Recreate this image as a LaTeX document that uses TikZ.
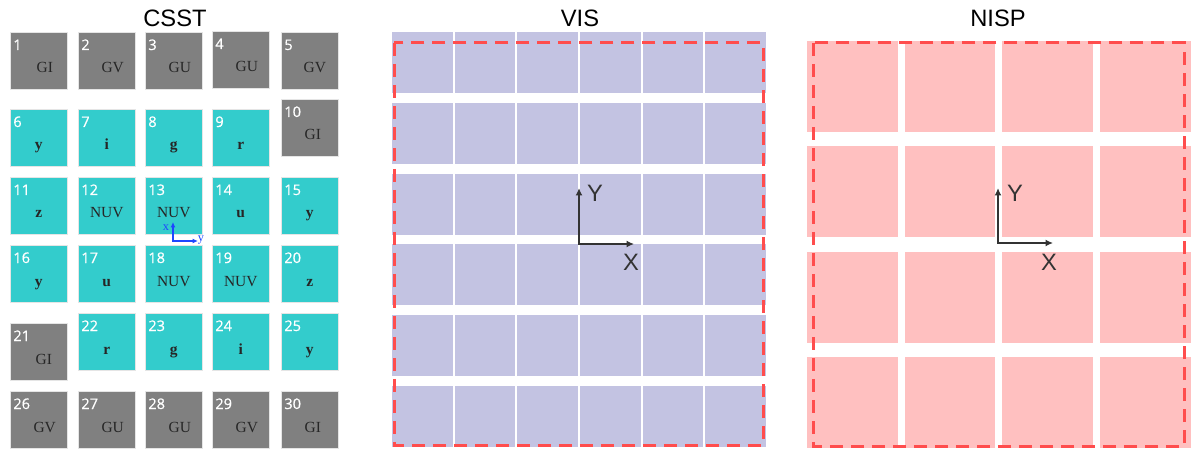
\documentclass[tikz,border=0pt]{standalone}
\usepackage{fontspec}
\setmainfont{Liberation Serif}
\newfontfamily\titlefont{Liberation Sans}
\newfontfamily\numfont[FakeBold=0.6]{Open Sans}
\usetikzlibrary{arrows.meta}
\definecolor{cgray}{RGB}{128,128,128}
\definecolor{ccyan}{RGB}{51,204,204}
\definecolor{visfill}{RGB}{195,195,226}
\definecolor{nispfill}{RGB}{255,192,192}
\definecolor{reddash}{RGB}{255,77,77}
\definecolor{axisgray}{RGB}{51,51,51}
\definecolor{lblgray}{RGB}{38,38,38}
\definecolor{axisblue}{RGB}{30,70,255}
\begin{document}
\begin{tikzpicture}[x=0.02cm,y=-0.02cm,
  chip/.style={draw=black!10, line width=0.4pt, minimum width=1.15cm, minimum height=1.15cm, inner sep=0pt, anchor=north west},
  chipg/.style={chip, fill=cgray},
  chipc/.style={chip, fill=ccyan},
  numlbl/.style={text=white, font=\numfont\fontsize{8.3}{9}\selectfont, inner sep=0pt, anchor=base west},
  fltlbl/.style={text=lblgray, font=\fontsize{8.8}{10}\selectfont, inner sep=0pt, anchor=base},
  ttl/.style={font=\titlefont\fontsize{13.5}{15}\selectfont, inner sep=0pt, anchor=base},
  axlbl/.style={font=\titlefont\fontsize{13.5}{15}\selectfont, text=axisgray, inner sep=0pt},
  bigaxis/.style={draw=axisgray, line width=0.055cm, {Latex[length=0.15cm,width=0.14cm]}-{Latex[length=0.15cm,width=0.14cm]}},
  smallaxis/.style={draw=axisblue, line width=0.03cm, {Latex[length=0.11cm,width=0.1cm]}-{Latex[length=0.11cm,width=0.1cm]}},
  smalllbl/.style={text=axisblue, font=\fontsize{7}{8}\selectfont, inner sep=0pt},
  fov/.style={draw=reddash, line width=0.06cm, dash pattern=on 0.26cm off 0.16cm}
]
\useasboundingbox (0,0) rectangle (1200,459);

% titles
\node[ttl] (tcsst) at (175,27) {CSST};
\node[ttl] (tvis) at (580,27) {VIS};
\node[ttl] (tnisp) at (998,27) {NISP};

% CSST chips
\foreach \n/\x/\y/\k/\lab/\dx in {
  1/10/32/g/GI/6, 2/78/32/g/GV/6, 3/145/32/g/GU/6, 4/212/31/g/GU/6, 5/281/32/g/GV/5,
  6/10/109/c/{\textbf{y}}/0, 7/78/109/c/{\textbf{i}}/0, 8/145/109/c/{\textbf{g}}/0, 9/212/109/c/{\textbf{r}}/0, 10/281/99/g/GI/3,
  11/10/177/c/{\textbf{z}}/0, 12/78/177/c/NUV/0, 13/145/177/c/NUV/0, 14/212/177/c/{\textbf{u}}/0, 15/281/177/c/{\textbf{y}}/0,
  16/10/245/c/{\textbf{y}}/0, 17/78/245/c/{\textbf{u}}/0, 18/145/245/c/NUV/0, 19/212/245/c/NUV/0, 20/281/245/c/{\textbf{z}}/0,
  21/10/323/g/GI/5, 22/78/313/c/{\textbf{r}}/0, 23/145/313/c/{\textbf{g}}/0, 24/212/313/c/{\textbf{i}}/0, 25/281/313/c/{\textbf{y}}/0,
  26/10/391/g/GV/6, 27/78/391/g/GU/6, 28/145/391/g/GU/6, 29/212/391/g/GV/6, 30/281/391/g/GI/3}
{
  \node[chip\k] (c\n) at (\x,\y) {};
  \node[numlbl] (n\n) at ([shift={(3,18)}]c\n.north west) {\n};
  \node[fltlbl] (l\n) at ([shift={(28.75+\dx,41)}]c\n.north west) {\lab};
}

% small axes in chip 13
\coordinate (bo) at (173,241);
\coordinate (bx) at (173,222);
\coordinate (by) at (198,241);
\draw[smallaxis] (bx) -- (bo) -- (by);
\node[smalllbl] (bxl) at (166,228) {x};
\node[smalllbl] (byl) at (201,240) {y};

% VIS mosaic
\foreach \r in {0,...,5}
  \foreach \c in {0,...,5}
    \fill[visfill] (392+\c*62.67, 32+\r*70.8) rectangle ++(60.67,61);
\draw[fov] (394,43) rectangle (763,445);

\coordinate (vo) at (579,244);
\coordinate (vy) at (579,188);
\coordinate (vx) at (634,244);
\draw[bigaxis] (vy) -- (vo) -- (vx);
\node[axlbl] (vyl) at (595,193) {Y};
\node[axlbl] (vxl) at (631,262) {X};

% NISP mosaic
\foreach \r in {0,...,3}
  \foreach \c in {0,...,3}
    \fill[nispfill] (807+\c*97.7, 41+\r*105.3) rectangle ++(90.5,91);
\draw[fov] (813,43) rectangle (1184,446);

\coordinate (no) at (998,243);
\coordinate (ny) at (998,188);
\coordinate (nx) at (1053,243);
\draw[bigaxis] (ny) -- (no) -- (nx);
\node[axlbl] (nyl) at (1015,193) {Y};
\node[axlbl] (nxl) at (1049,262) {X};
\end{tikzpicture}
\end{document}
